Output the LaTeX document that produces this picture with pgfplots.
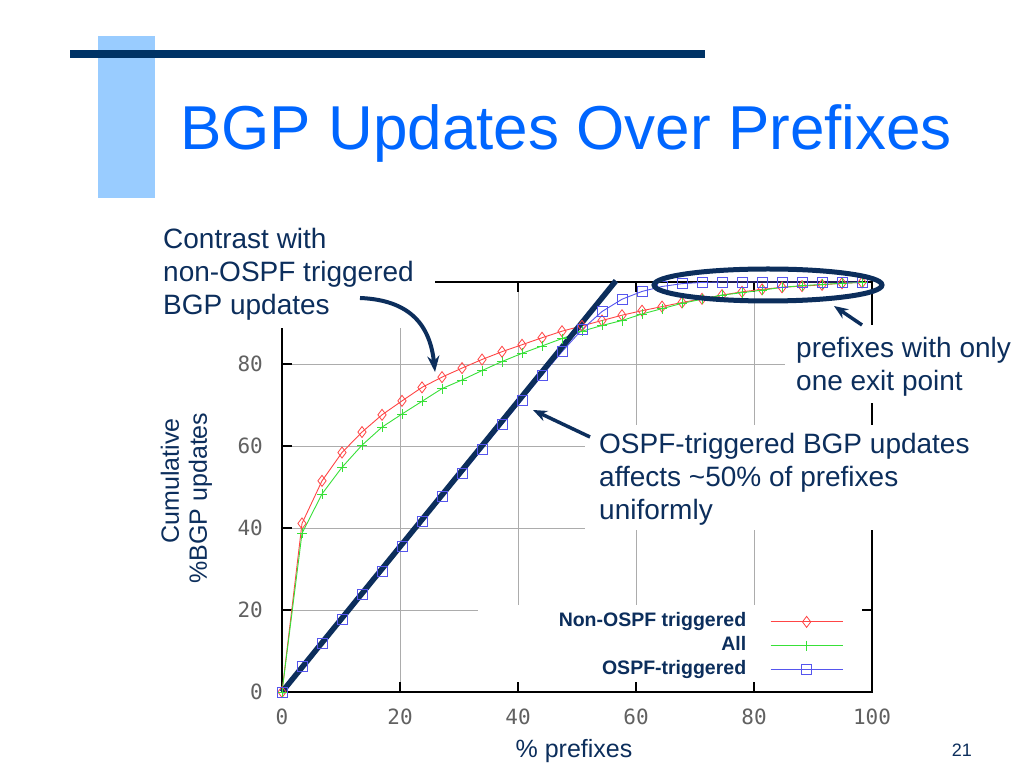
\documentclass[border=0pt]{standalone}
\usepackage{fontspec}
\setmainfont{Liberation Sans}
\setmonofont{DejaVu Sans Mono}
\usepackage{pgfplots}
\pgfplotsset{compat=1.18}
\usepackage{pgfplotstable}
\usetikzlibrary{arrows.meta}
\definecolor{navy}{HTML}{0C2E5C}
\definecolor{titleblue}{HTML}{0066FF}
\definecolor{lightbar}{HTML}{99CCFF}
\definecolor{topbar}{HTML}{003366}
\definecolor{cred}{HTML}{FF4545}
\definecolor{cgreen}{HTML}{38E038}
\definecolor{cblue}{HTML}{5555EE}

\pgfplotstableread{
x      nonospf all   ospf
0      0       0     0
3.39   41.1    38.7  6.2
6.78   51.5    48.3  11.9
10.17  58.4    54.8  17.7
13.56  63.4    60.2  23.8
16.95  67.6    64.6  29.5
20.34  71.0    67.8  35.4
23.73  74.3    70.9  41.7
27.12  76.8    74.0  47.6
30.51  79.0    76.1  53.2
33.90  81.1    78.4  59.2
37.29  83.0    80.6  65.2
40.68  84.7    82.6  71.2
44.07  86.4    84.4  77.2
47.46  88.0    86.2  83.0
50.85  89.3    88.0  88.4
54.24  90.6    89.4  92.8
57.63  91.9    90.6  95.8
61.02  93.0    92.2  97.7
64.41  94.0    93.5  98.9
67.80  95.0    94.8  99.6
71.19  95.9    95.8  99.9
74.58  96.8    96.8  100
77.97  97.6    97.4  100
81.36  98.2    98.0  100
84.75  98.7    98.7  100
88.14  99.0    99.1  100
91.53  99.3    99.4  100
94.92  99.7    99.7  100
98.31  99.9    99.9  100
}\datatable

\begin{document}
\begin{tikzpicture}[x=1pt,y=1pt]
\useasboundingbox (0,0) rectangle (1024,768);
\fill[white] (0,0) rectangle (1024,768);
% slide decoration
\fill[lightbar] (98,570) rectangle (155,732);
\fill[topbar] (70,710) rectangle (705,718);
\node[anchor=base west, inner sep=0pt, text=titleblue, font=\fontsize{62}{62}\selectfont] at (180,618) {BGP Updates Over Prefixes};

\begin{axis}[
  at={(282pt,76pt)}, anchor=south west,
  scale only axis, width=590pt, height=410pt,
  xmin=0, xmax=100, ymin=0, ymax=100,
  enlargelimits=false, clip=false,
  xtick={0,20,40,60,80,100}, ytick={0,20,40,60,80},
  tick align=inside, major tick length=10pt,
  grid=major, grid style={gray!65, line width=0.9pt},
  axis line style={black, line width=1.2pt},
  every tick/.style={black, line width=1.2pt},
  /pgf/number format/assume math mode=true,
  ticklabel style={font=\ttfamily\fontsize{21}{21}\selectfont, text=black!62},
  xticklabel style={anchor=center, inner sep=0pt, yshift=-25pt},
  yticklabel style={anchor=east, inner sep=0pt, xshift=-19pt},
  xlabel={\% prefixes},
  xlabel style={at={(axis description cs:0.495,0)}, anchor=base, yshift=-65pt, inner sep=0pt, font=\fontsize{25}{28}\selectfont, text=navy},
  ylabel={\hspace*{34pt}Cumulative\\\%BGP updates},
  ylabel style={at={(axis description cs:-0.162,0.473)}, anchor=center, align=center, inner sep=0pt, font=\fontsize{25}{28}\selectfont, text=navy},
  legend plot pos=right,
  legend cell align=right,
  legend image code/.code={\draw[#1,mark repeat=2,mark phase=2] plot coordinates {(0pt,0pt) (36pt,0pt) (72pt,0pt)};},
  legend style={at={(axis cs:95.13,19.6)}, anchor=north east, draw=none, fill=none,
    inner sep=0pt, row sep=3.7pt, column sep=24pt,
    font=\bfseries\fontsize{19.5}{22}\selectfont, text=navy,
    nodes={inner sep=0pt, text height=15pt, text depth=5pt}},
]
\addplot[cred, line width=0.9pt, mark=diamond, mark size=5.5pt, mark options={solid, line width=0.8pt}] table[x=x, y=nonospf] {\datatable};
\addlegendentry{Non-OSPF triggered}
\addplot[cgreen, line width=0.9pt, mark=+, mark size=5pt, mark options={solid, line width=0.9pt}] table[x=x, y=all] {\datatable};
\addlegendentry{All}
\addplot[cblue, line width=0.9pt, mark=square, mark size=5pt, mark options={solid, line width=0.8pt}] table[x=x, y=ospf] {\datatable};
\addlegendentry{OSPF-triggered}
% white key box covering grid
\fill[white] (axis cs:33.2,2.4) rectangle (axis cs:98.3,21.2);
% fitted line
\draw[navy, line width=5.5pt] (axis cs:0,0) -- (axis cs:56.6,100.3);
\end{axis}

% annotation boxes
\fill[white] (155,440) rectangle (435,548);
\fill[white] (785,365) rectangle (1024,443);
\fill[white] (585,238) rectangle (990,343);

\begin{scope}[every node/.style={anchor=base west, inner sep=0pt, text=navy, font=\fontsize{28}{33}\selectfont}]
\node at (163,519) {Contrast with};
\node at (163,486) {non-OSPF triggered};
\node at (163,453) {BGP updates};
\node at (796,410) {prefixes with only};
\node at (796,377) {one exit point};
\node at (599,314) {OSPF-triggered BGP updates};
\node at (599,281) {affects \textasciitilde50\% of prefixes};
\node at (599,248) {uniformly};
\end{scope}

% arrows and ellipse
\draw[navy, line width=4pt, -{Stealth[length=16pt,width=12pt]}] (360,470) .. controls (410,468) and (430,443) .. (435,396);
\draw[navy, line width=3.5pt, -{Stealth[length=14pt,width=11pt]}] (590,331) -- (533,358);
\draw[navy, line width=3.5pt, -{Stealth[length=14pt,width=11pt]}] (862,443) -- (834,462);
\draw[navy, line width=5pt] (768,483) ellipse [x radius=114pt, y radius=16pt];

\node[anchor=base east, inner sep=0pt, text=navy, font=\fontsize{18}{20}\selectfont] at (972,12) {21};
\end{tikzpicture}
\end{document}
